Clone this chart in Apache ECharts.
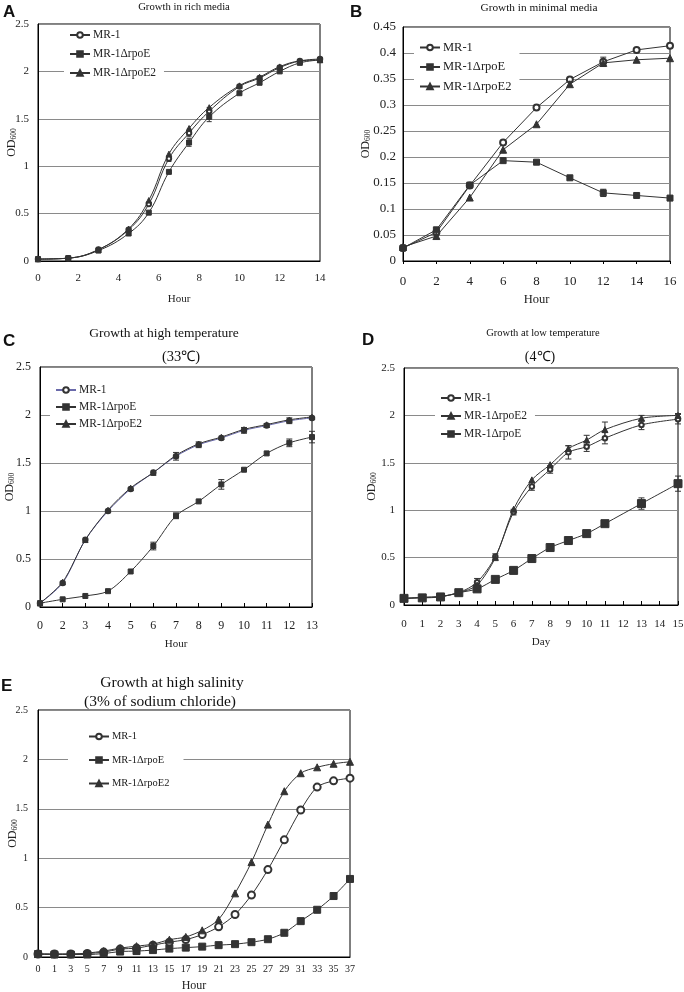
<!DOCTYPE html>
<html><head><meta charset="utf-8">
<script src="https://cdn.jsdelivr.net/npm/echarts@6/dist/echarts.min.js"></script>
<style>
body{margin:0;background:#fff;width:684px;height:992px;position:relative;overflow:hidden}
.p{position:absolute}
</style></head><body>
<div id="pA" class="p" style="left:0;top:0;width:342px;height:310px"></div>
<div id="pB" class="p" style="left:342px;top:0;width:342px;height:310px"></div>
<div id="pC" class="p" style="left:0;top:310px;width:342px;height:340px"></div>
<div id="pD" class="p" style="left:342px;top:310px;width:342px;height:340px"></div>
<div id="pE" class="p" style="left:0;top:650px;width:370px;height:342px"></div>
<script>
// ---------- DATA ----------
const NAME_WT = 'MR-1';
const NAME_E = 'MR-1\u0394rpoE';
const NAME_E2 = 'MR-1\u0394rpoE2';

// A: Growth in rich media
const hoursA = [0, 1.5, 3, 4.5, 5.5, 6.5, 7.5, 8.5, 10, 11, 12, 13, 14];
const mr1A   = [0.02, 0.03, 0.12, 0.33, 0.60, 1.08, 1.35, 1.58, 1.84, 1.93, 2.04, 2.11, 2.13];
const rpoEA  = [0.02, 0.03, 0.11, 0.29, 0.51, 0.94, 1.25, 1.52, 1.77, 1.88, 2.00, 2.09, 2.12];
const rpoE2A = [0.02, 0.03, 0.12, 0.34, 0.64, 1.13, 1.40, 1.62, 1.85, 1.94, 2.05, 2.11, 2.12];
const errMr1A  = [0, 0, 0, 0, 0, 0.03, 0.04, 0.04, 0, 0, 0, 0, 0];
const errRpoEA = [0, 0, 0, 0, 0, 0, 0.04, 0.05, 0, 0, 0, 0, 0];

// B: Growth in minimal media
const hoursB = [0, 2, 4, 6, 8, 10, 12, 14, 16];
const mr1B   = [0.025, 0.055, 0.145, 0.228, 0.295, 0.349, 0.383, 0.406, 0.414];
const rpoEB  = [0.025, 0.060, 0.146, 0.193, 0.190, 0.160, 0.131, 0.126, 0.121];
const rpoE2B = [0.027, 0.048, 0.122, 0.214, 0.263, 0.340, 0.381, 0.387, 0.390];
const errMr1B  = [0, 0, 0, 0, 0, 0, 0.009, 0, 0];
const errRpoEB = [0, 0, 0, 0, 0, 0, 0.007, 0, 0];

// C: Growth at high temperature (33°C)
const hoursC = ['0', '2', '3', '4', '5', '6', '7', '8', '9', '10', '11', '12', '13'];
const mr1C   = [0.04, 0.25, 0.70, 1.00, 1.23, 1.40, 1.57, 1.69, 1.76, 1.84, 1.89, 1.94, 1.97];
const rpoEC  = [0.04, 0.08, 0.115, 0.165, 0.37, 0.635, 0.95, 1.10, 1.277, 1.43, 1.60, 1.71, 1.77];
const rpoE2C = [0.04, 0.26, 0.70, 1.01, 1.24, 1.40, 1.58, 1.70, 1.77, 1.85, 1.90, 1.95, 1.98];
const errMr1C  = [0, 0, 0, 0, 0, 0, 0.04, 0.03, 0, 0.03, 0.02, 0.03, 0];
const errRpoEC = [0, 0, 0, 0, 0, 0.04, 0.03, 0, 0.05, 0, 0, 0.04, 0.06];

// D: Growth at low temperature (4°C)
const daysD  = [0, 1, 2, 3, 4, 5, 6, 7, 8, 9, 10, 11, 13, 15];
const mr1D   = [0.07, 0.08, 0.09, 0.13, 0.24, 0.51, 0.98, 1.25, 1.43, 1.61, 1.67, 1.76, 1.90, 1.96];
const rpoE2D = [0.07, 0.08, 0.09, 0.13, 0.21, 0.50, 1.01, 1.32, 1.48, 1.65, 1.74, 1.85, 1.97, 2.00];
const rpoED  = [0.07, 0.075, 0.085, 0.13, 0.17, 0.27, 0.365, 0.49, 0.606, 0.68, 0.753, 0.858, 1.07, 1.28];
const errMr1D  = [0, 0, 0, 0, 0.04, 0.03, 0.03, 0.04, 0.04, 0.07, 0.05, 0.06, 0.05, 0.05];
const errRpoE2D = [0, 0, 0, 0, 0, 0, 0, 0, 0, 0.03, 0.05, 0.08, 0.03, 0.02];
const errRpoED = [0, 0, 0, 0, 0, 0, 0, 0, 0, 0, 0, 0, 0.06, 0.08];

// E: Growth at high salinity (3% NaCl)
const hoursE = ['0','1','3','5','7','9','11','13','15','17','19','21','23','25','27','29','31','33','35','37'];
const mr1E   = [0.03, 0.03, 0.03, 0.035, 0.05, 0.08, 0.09, 0.12, 0.15, 0.176, 0.227, 0.305, 0.43, 0.627, 0.885, 1.186, 1.488, 1.72, 1.783, 1.81];
const rpoEE  = [0.03, 0.025, 0.025, 0.025, 0.035, 0.055, 0.06, 0.07, 0.085, 0.095, 0.105, 0.12, 0.13, 0.15, 0.18, 0.245, 0.363, 0.478, 0.617, 0.79];
const rpoE2E = [0.03, 0.03, 0.03, 0.04, 0.06, 0.09, 0.11, 0.13, 0.175, 0.203, 0.27, 0.38, 0.644, 0.96, 1.34, 1.678, 1.86, 1.92, 1.956, 1.976];

// ---------- RENDER ----------
const SERIF = 'Liberation Serif';
const SANS = 'Liberation Sans';
const LINE = '#333';
const GRIDC = '#8a8a8a';

function pairs(xs, ys) { return xs.map((x, i) => [x, ys[i]]); }

function ser(name, data, symbol, size, smooth, color) {
  return {
    type: 'line', name, data, symbol, symbolSize: size,
    smooth: smooth, showSymbol: true, z: 3,
    lineStyle: { color: color || LINE, width: 1 },
    itemStyle: { color: LINE, borderColor: LINE, borderWidth: 1 },
    emphasis: { disabled: true }
  };
}

// error bars: xs are axis values (or category indices), ys centres, errs half-widths
function errSer(xs, ys, errs, capW) {
  const data = [];
  xs.forEach((x, i) => { if (errs[i] > 0) data.push([x, ys[i] - errs[i], ys[i] + errs[i]]); });
  return {
    type: 'custom', silent: true, z: 2, data, encode: { x: 0, y: [1, 2] },
    renderItem(params, api) {
      const lo = api.coord([api.value(0), api.value(1)]);
      const hi = api.coord([api.value(0), api.value(2)]);
      const st = { stroke: LINE, lineWidth: 1 };
      return { type: 'group', children: [
        { type: 'line', shape: { x1: lo[0], y1: lo[1], x2: hi[0], y2: hi[1] }, style: st },
        { type: 'line', shape: { x1: lo[0] - capW, y1: lo[1], x2: lo[0] + capW, y2: lo[1] }, style: st },
        { type: 'line', shape: { x1: hi[0] - capW, y1: hi[1], x2: hi[0] + capW, y2: hi[1] }, style: st }
      ] };
    }
  };
}
const idx = arr => arr.map((_, i) => i);

function yName(gap, fs) {
  return {
    name: '{a|OD}{b|600}', nameLocation: 'middle', nameGap: gap, nameRotate: 90,
    nameMoveOverlap: false,
    nameTextStyle: { rich: {
      a: { fontFamily: SERIF, fontSize: fs || 12, color: '#222' },
      b: { fontFamily: SERIF, fontSize: 7.5, color: '#222', verticalAlign: 'bottom', padding: [3, 0, 0, 0] }
    } }
  };
}

function texts(items) {
  return items.map(t => ({
    type: 'text', x: t.x, y: t.y,
    style: { text: t.text, font: t.font, fill: '#111', textAlign: t.align || 'center', textVerticalAlign: 'middle' }
  }));
}

function baseY(max, interval, gap, fs, margin) {
  return Object.assign({
    type: 'value', min: 0, max, interval,
    axisLine: { show: true, lineStyle: { color: '#000', width: 1 } },
    axisTick: { show: false },
    axisLabel: { fontFamily: SERIF, fontSize: fs, color: '#222', margin: margin,
      formatter: v => String(+v.toFixed(2)) },
    splitLine: { show: true, lineStyle: { color: GRIDC, width: 1 } }
  }, yName(gap));
}

function legend(left, top, gap, fs, data, pad) {
  return {
    orient: 'vertical', left, top, itemGap: gap, itemWidth: 20, itemHeight: 7,
    backgroundColor: '#fff', padding: pad || [3, 8, 3, 5], selectedMode: false,
    textStyle: { fontFamily: SERIF, fontSize: fs, color: '#222', padding: [0, 0, 0, -2] },
    data
  };
}

function xCommon(fs, margin, name, nameGap, nameFs, ticks) {
  return {
    axisLine: { lineStyle: { color: '#000' } },
    axisTick: ticks ? { show: true, inside: true, length: 4, lineStyle: { color: '#000' } } : { show: false },
    axisLabel: { fontFamily: SERIF, fontSize: fs, color: '#222', margin: margin },
    splitLine: { show: false },
    name, nameLocation: 'middle', nameGap,
    nameTextStyle: { fontFamily: SERIF, fontSize: nameFs, color: '#222' }
  };
}

function grid(left, top, width, height) {
  return { left, top, width, height, show: true, borderColor: '#000', borderWidth: 1,
    containLabel: false, outerBoundsMode: 'none' };
}

const common = { animation: false, backgroundColor: 'transparent' };

// Panel A
echarts.init(document.getElementById('pA')).setOption(Object.assign({}, common, {
  grid: grid(38, 24, 282, 237),
  graphic: texts([
    { text: 'A', x: 3, y: 12, font: 'bold 17px ' + SANS, align: 'left' },
    { text: 'Growth in rich media', x: 184, y: 7, font: '10.7px ' + SERIF }
  ]),
  legend: legend(64, 26, 7, 11.5, [NAME_WT, NAME_E, NAME_E2]),
  xAxis: Object.assign({ type: 'value', min: 0, max: 14, interval: 2 },
    xCommon(11, 12, 'Hour', 33, 11, false)),
  yAxis: baseY(2.5, 0.5, 20, 11, 9),
  series: [
    ser(NAME_WT, pairs(hoursA, mr1A), 'emptyCircle', 4.5, 0.4),
    ser(NAME_E, pairs(hoursA, rpoEA), 'rect', 5, 0.4),
    ser(NAME_E2, pairs(hoursA, rpoE2A), 'triangle', 5.5, 0.4),
    errSer(hoursA, mr1A, errMr1A, 2.5),
    errSer(hoursA, rpoEA, errRpoEA, 2.5)
  ]
}));

// Panel B
echarts.init(document.getElementById('pB')).setOption(Object.assign({}, common, {
  grid: grid(61, 27, 267, 234),
  graphic: texts([
    { text: 'B', x: 8, y: 12, font: 'bold 17px ' + SANS, align: 'left' },
    { text: 'Growth in minimal media', x: 197, y: 8, font: '11.3px ' + SERIF }
  ]),
  legend: legend(72, 38, 6.5, 12.5, [NAME_WT, NAME_E, NAME_E2]),
  xAxis: Object.assign({ type: 'value', min: 0, max: 16, interval: 2 },
    xCommon(13, 14, 'Hour', 32, 12.5, false), { axisTick: { show: true, length: 3, lineStyle: { color: '#000' } } }),
  yAxis: baseY(0.45, 0.05, 31, 13, 7),
  series: [
    ser(NAME_WT, pairs(hoursB, mr1B), 'emptyCircle', 6, false),
    ser(NAME_E, pairs(hoursB, rpoEB), 'rect', 6, false),
    ser(NAME_E2, pairs(hoursB, rpoE2B), 'triangle', 7, false),
    errSer(hoursB, mr1B, errMr1B, 3),
    errSer(hoursB, rpoEB, errRpoEB, 3)
  ]
}));

// Panel C
echarts.init(document.getElementById('pC')).setOption(Object.assign({}, common, {
  grid: grid(40, 57, 272, 240),
  graphic: texts([
    { text: 'C', x: 3, y: 31, font: 'bold 17px ' + SANS, align: 'left' },
    { text: 'Growth at high temperature', x: 164, y: 23, font: '13.5px ' + SERIF },
    { text: '(33\u2103)', x: 181, y: 47, font: '14.5px ' + SERIF }
  ]),
  legend: legend(50, 71, 5, 11.5, [NAME_WT, NAME_E, NAME_E2]),
  xAxis: Object.assign({ type: 'category', data: hoursC, boundaryGap: false },
    xCommon(12, 13, 'Hour', 32, 11, true), { axisLabel: { fontFamily: SERIF, fontSize: 12, color: '#222', margin: 13, interval: 0 } }),
  yAxis: baseY(2.5, 0.5, 24, 12, 9),
  series: [
    ser(NAME_WT, mr1C, 'emptyCircle', 4.5, 0.3, '#6a6aaa'),
    ser(NAME_E, rpoEC, 'rect', 5, 0.3),
    ser(NAME_E2, rpoE2C, 'triangle', 5.5, 0.3),
    errSer(idx(hoursC), mr1C, errMr1C, 3),
    errSer(idx(hoursC), rpoEC, errRpoEC, 3)
  ]
}));

// Panel D
echarts.init(document.getElementById('pD')).setOption(Object.assign({}, common, {
  grid: grid(62, 58, 274, 237),
  graphic: texts([
    { text: 'D', x: 20, y: 30, font: 'bold 17px ' + SANS, align: 'left' },
    { text: 'Growth at low temperature', x: 201, y: 23, font: '10.5px ' + SERIF },
    { text: '(4\u2103)', x: 198, y: 47, font: '14px ' + SERIF }
  ]),
  legend: legend(93, 79, 6, 11.5, [NAME_WT, NAME_E2, NAME_E]),
  xAxis: Object.assign({ type: 'value', min: 0, max: 15, interval: 1 },
    xCommon(11, 14, 'Day', 32, 11, true)),
  yAxis: baseY(2.5, 0.5, 26, 11, 9),
  series: [
    ser(NAME_WT, pairs(daysD, mr1D), 'emptyCircle', 4.5, 0.3),
    ser(NAME_E2, pairs(daysD, rpoE2D), 'triangle', 6, 0.3),
    ser(NAME_E, pairs(daysD, rpoED), 'rect', 8, 0.3),
    errSer(daysD, mr1D, errMr1D, 3),
    errSer(daysD, rpoE2D, errRpoE2D, 3),
    errSer(daysD, rpoED, errRpoED, 3)
  ]
}));

// Panel E
echarts.init(document.getElementById('pE')).setOption(Object.assign({}, common, {
  grid: grid(38, 60, 312, 247),
  graphic: texts([
    { text: 'E', x: 1, y: 36, font: 'bold 17px ' + SANS, align: 'left' },
    { text: 'Growth at high salinity', x: 172, y: 33, font: '15.5px ' + SERIF },
    { text: '(3% of sodium chloride)', x: 160, y: 52, font: '15.5px ' + SERIF }
  ]),
  legend: legend(68, 78, 12.5, 10.5, [NAME_WT, NAME_E, NAME_E2], [3, 14, 3, 20]),
  xAxis: Object.assign({ type: 'category', data: hoursE, boundaryGap: false },
    xCommon(10, 7, 'Hour', 23, 12, false), { axisLabel: { fontFamily: SERIF, fontSize: 10, color: '#222', margin: 7, interval: 0 } }),
  yAxis: baseY(2.5, 0.5, 19, 10, 10),
  series: [
    ser(NAME_WT, mr1E, 'emptyCircle', 7, 0.3),
    ser(NAME_E, rpoEE, 'rect', 7, 0.3),
    ser(NAME_E2, rpoE2E, 'triangle', 7, 0.3)
  ]
}));
</script>
</body></html>
